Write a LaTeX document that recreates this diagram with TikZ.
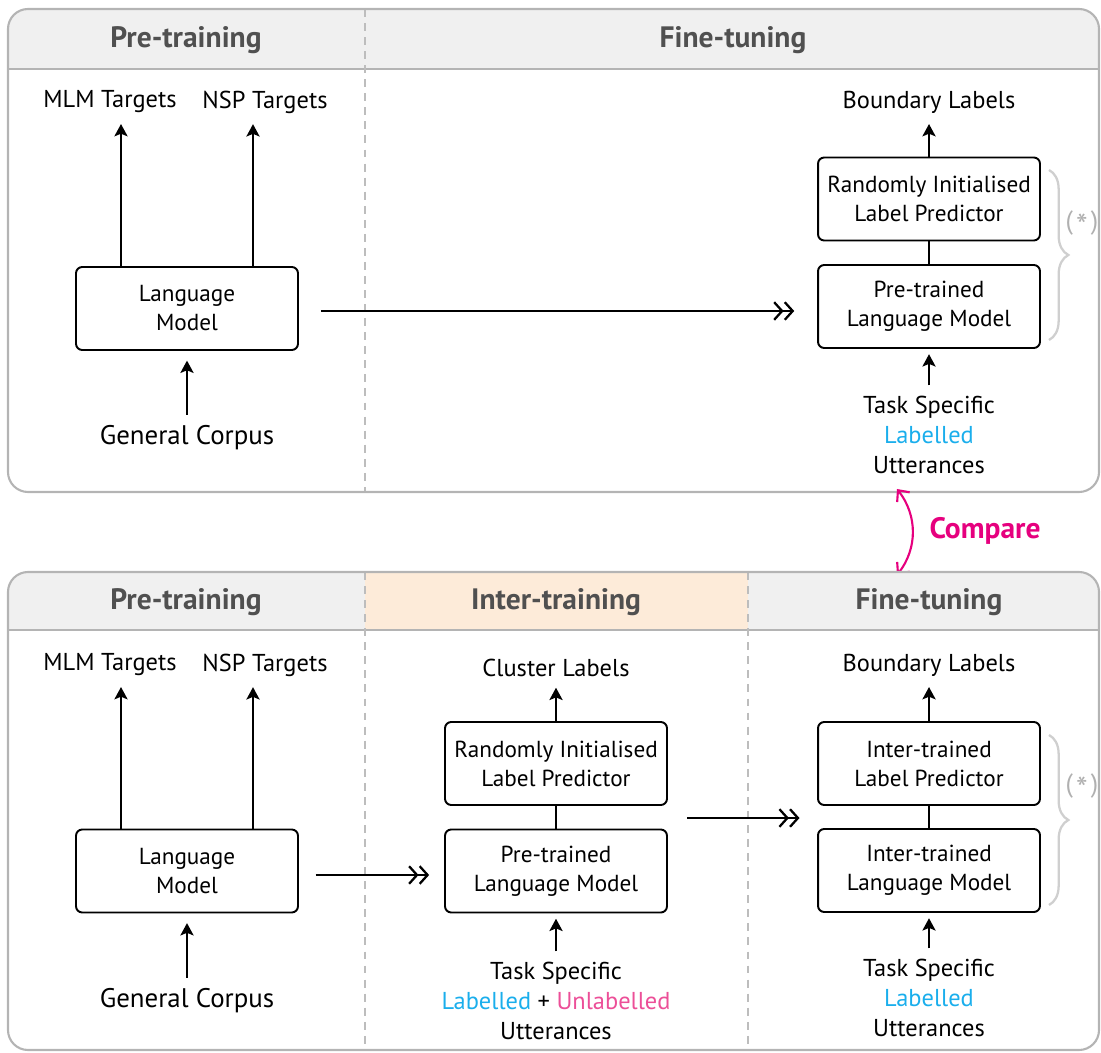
\documentclass[tikz,border=0pt]{standalone}
\usepackage{fontspec}
\setmainfont{PT Sans}
\usetikzlibrary{arrows.meta,calc,decorations.pathreplacing}

\definecolor{panelline}{HTML}{B4B4B4}
\definecolor{headgray}{HTML}{F0F0F0}
\definecolor{headpeach}{HTML}{FDEBD9}
\definecolor{headtext}{HTML}{505050}
\definecolor{divline}{HTML}{BDBDBD}
\definecolor{bracegray}{HTML}{CFCFCF}
\definecolor{cyanL}{HTML}{1AAEEC}
\definecolor{pinkU}{HTML}{EC4F98}
\definecolor{magentaC}{HTML}{E6007E}

\newcommand{\lblfont}{\fontsize{13.9}{17}\selectfont}
\newcommand{\boxfont}{\fontsize{13.2}{16.5}\selectfont}
\newcommand{\corpusfont}{\fontsize{15.3}{17}\selectfont}
\newcommand{\headfont}{\fontsize{16.8}{19}\selectfont\bfseries}
\newcommand{\starmark}{(\hspace{0.12em}\raisebox{-0.55ex}{\scalebox{1.25}{*}}\hspace{0.12em})}

\begin{document}
\begin{tikzpicture}[x=0.02cm,y=-0.02cm,
  box/.style={draw, line width=1.1pt, rounded corners=3.5pt, minimum width=4.44cm,
    minimum height=1.66cm, align=center, font=\boxfont, inner sep=0pt},
  lbl/.style={align=center, font=\lblfont, inner xsep=2pt, inner ysep=6pt},
  corpus/.style={align=center, font=\corpusfont, inner xsep=2pt, inner ysep=6pt},
  head/.style={font=\headfont, text=headtext},
  arr/.style={line width=1.1pt, -{Stealth[length=7pt,width=7.5pt,inset=1.5pt]}},
  darr/.style={line width=1.1pt,
    -{Straight Barb[length=4.5pt,width=10pt,line width=1.3pt]Straight Barb[length=4.5pt,width=10pt,line width=1.3pt]}},
  link/.style={line width=1.1pt},
  divider/.style={draw=divline, line width=0.9pt, dash pattern=on 4.5pt off 3.5pt},
  panel/.style={draw=panelline, line width=1.2pt, rounded corners=0.4cm},
  bracestyle/.style={draw=bracegray, line width=1.3pt,
    decorate, decoration={brace, amplitude=11pt}},
  star/.style={text=bracegray!85!black, font=\fontsize{15}{17}\selectfont}
]
\useasboundingbox (0,0) rectangle (1101,1053);

% ---------------- upper panel: pre-training + fine-tuning ----------------
\begin{scope}
  \clip[rounded corners=0.4cm] (8,9) rectangle (1099,492);
  \fill[headgray] (8,9) rectangle (1099,69);
\end{scope}
\draw[panelline, line width=1.2pt] (8,69) -- (1099,69);
\draw[divider] (365,9) -- (365,492);
\draw[panel] (8,9) rectangle (1099,492);

\node[head] (hPreA) at (186,40) {Pre-training};
\node[head] (hFineA) at (733,40) {Fine-tuning};

\node[lbl] (mlmA) at (110,102) {MLM Targets};
\node[lbl] (nspA) at (265,102) {NSP Targets};
\node[box] (lmA) at (187,308.5) {Language\\Model};
\node[corpus] (gcA) at (187,438) {General Corpus};

\draw[arr] (lmA.north -| 121,0) -- (mlmA.south -| 121,0);
\draw[arr] (lmA.north -| 253,0) -- (nspA.south -| 253,0);
\draw[arr, shorten >=5.5pt] (gcA.north) -- (lmA.south);

\node[lbl] (blA) at (929,102) {Boundary Labels};
\node[box] (rpA) at (929,199) {Randomly Initialised\\Label Predictor};
\node[box] (ptA) at (929,306.5) {Pre-trained\\Language Model};
\node[lbl] (tsA) at (929,435) {Task Specific\\\textcolor{cyanL}{Labelled}\\Utterances};

\draw[arr] (rpA.north) -- (blA.south);
\draw[link] (rpA.south) -- (ptA.north);
\draw[arr, shorten >=3pt] (tsA.north) -- (ptA.south);

\draw[darr, shorten <=12.5pt, shorten >=13pt] (lmA.east |- 0,311) -- (ptA.west |- 0,311);

\draw[bracestyle] (1049,170) -- (1049,340);
\node[star] (starA) at (1082,224) {\starmark};

% ---------------- comparison marker ----------------
\coordinate (cmpTop) at (897,489);
\coordinate (cmpBot) at (897,575);
\draw[magentaC, line width=1.2pt,
  {Straight Barb[length=5pt,width=9pt]}-{Straight Barb[length=5pt,width=9pt]}]
  (cmpTop) to[bend left=38] (cmpBot);
\node[font=\headfont, text=magentaC] (cmpLabel) at (985,531) {Compare};

% ---------------- lower panel: pre-training + inter-training + fine-tuning ----------------
\begin{scope}
  \clip[rounded corners=0.4cm] (8,572) rectangle (1099,1050);
  \fill[headgray] (8,572) rectangle (1099,630);
  \fill[headpeach] (365,572) rectangle (748,630);
\end{scope}
\draw[panelline, line width=1.2pt] (8,630) -- (1099,630);
\draw[divider] (365,572) -- (365,1050);
\draw[divider] (748,572) -- (748,1050);
\draw[panel] (8,572) rectangle (1099,1050);

\node[head] (hPreB) at (186,602) {Pre-training};
\node[head] (hInterB) at (556,602) {Inter-training};
\node[head] (hFineB) at (929,602) {Fine-tuning};

\node[lbl] (mlmB) at (110,665) {MLM Targets};
\node[lbl] (nspB) at (265,665) {NSP Targets};
\node[box] (lmB) at (187,871) {Language\\Model};
\node[corpus] (gcB) at (187,1001) {General Corpus};

\draw[arr] (lmB.north -| 121,0) -- (mlmB.south -| 121,0);
\draw[arr] (lmB.north -| 253,0) -- (nspB.south -| 253,0);
\draw[arr, shorten >=5.5pt] (gcB.north) -- (lmB.south);

\node[lbl] (clB) at (556,668) {Cluster Labels};
\node[box] (rpB) at (556,763.5) {Randomly Initialised\\Label Predictor};
\node[box] (ptB) at (556,871) {Pre-trained\\Language Model};
\node[lbl] (tsB) at (556,1001) {Task Specific\\\textcolor{cyanL}{Labelled} + \textcolor{pinkU}{Unlabelled}\\Utterances};

\draw[arr] (rpB.north) -- (clB.south);
\draw[link] (rpB.south) -- (ptB.north);
\draw[arr, shorten >=3pt] (tsB.north) -- (ptB.south);

\node[lbl] (blB) at (929,665) {Boundary Labels};
\node[box] (itB) at (929,763.5) {Inter-trained\\Label Predictor};
\node[box] (imB) at (929,870.5) {Inter-trained\\Language Model};
\node[lbl] (tsC) at (929,998) {Task Specific\\\textcolor{cyanL}{Labelled}\\Utterances};

\draw[arr] (itB.north) -- (blB.south);
\draw[link] (itB.south) -- (imB.north);
\draw[arr, shorten >=3pt] (tsC.north) -- (imB.south);

\draw[darr, shorten <=9.5pt, shorten >=8.5pt] (lmB.east |- 0,875) -- (ptB.west |- 0,875);
\draw[darr, shorten <=11pt, shorten >=10pt] (rpB.east |- 0,818) -- (itB.west |- 0,818);

\draw[bracestyle] (1049,735) -- (1049,905);
\node[star] (starB) at (1082,787) {\starmark};

\end{tikzpicture}
\end{document}
